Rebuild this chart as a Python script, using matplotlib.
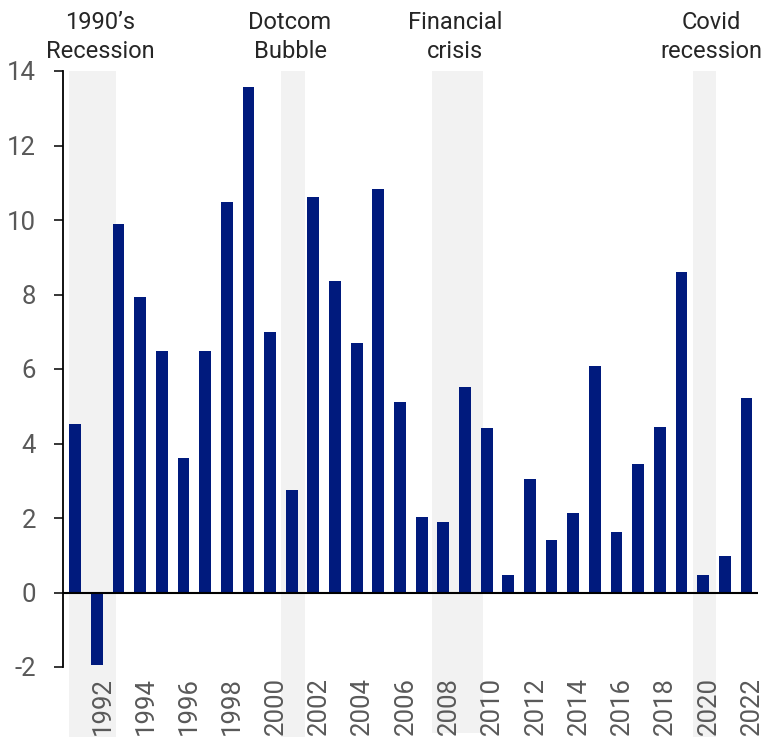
import matplotlib
matplotlib.use("Agg")
import matplotlib.pyplot as plt
from matplotlib.patches import Rectangle
from matplotlib.transforms import ScaledTranslation

plt.rcParams['font.family'] = ['Roboto', 'DejaVu Sans']

# Annual values, 1991-2022
years = list(range(1991, 2023))
values = [4.53, -1.95, 9.89, 7.92, 6.48, 3.61, 6.47, 10.47, 13.56, 6.99,
          2.75, 10.61, 8.36, 6.69, 10.82, 5.11, 2.02, 1.90, 5.52, 4.42,
          0.46, 3.06, 1.41, 2.14, 6.09, 1.63, 3.46, 4.45, 8.61, 0.48,
          0.99, 5.21]

# Recession periods: (start, end, label, label x-position)
recessions = [
    (1990.71, 1992.88, "1990\u2019s\nRecession", 1992.16),
    (2000.50, 2001.61, "Dotcom\nBubble", 2000.92),
    (2007.46, 2009.82, "Financial\ncrisis", 2008.54),
    (2019.52, 2020.58, "Covid\nrecession", 2020.38),
]

y_ticks = [-2, 0, 2, 4, 6, 8, 10, 12, 14]
x_ticks = list(range(1992, 2023, 2))

W, H = 763, 737
fig = plt.figure(figsize=(W / 100, H / 100), dpi=100)
left, right = 63.3 / W, 757.7 / W
bottom, top = (H - 667) / H, (H - 71) / H
ax = fig.add_axes([left, bottom, right - left, top - bottom])

bar_color = '#001a7d'
shade_color = '#f2f2f2'
label_color = '#595959'
note_color = '#262626'

ax.set_xlim(1990.45, 2022.52)
ax.set_ylim(-2, 14)

# Shaded recession bands, running below the plot area
for i, (x0, x1, text, tx) in enumerate(recessions):
    ybot = -3.76 if i == 2 else -3.95
    ax.add_patch(Rectangle((x0, ybot), x1 - x0, 14 - ybot, facecolor=shade_color,
                           edgecolor='none', clip_on=False, zorder=0))
    ax.text(tx, 14.36, text, ha='center', va='baseline', fontsize=17,
            color=note_color, linespacing=1.3, clip_on=False)

ax.bar(years, values, width=0.545, color=bar_color, zorder=2)
ax.axhline(0, color='black', linewidth=1.5, zorder=3)

for side in ('top', 'right', 'bottom'):
    ax.spines[side].set_visible(False)
ax.spines['left'].set_linewidth(1.3)
ax.spines['left'].set_color('black')

ax.set_yticks(y_ticks)
ax.set_yticklabels([str(t) for t in y_ticks])
ax.tick_params(axis='y', direction='out', length=6.5, width=1.1, pad=13,
               labelsize=18.5, labelcolor=label_color, color='black')

ax.set_xticks(x_ticks)
ax.set_xticklabels([str(t) for t in x_ticks], rotation=90)
ax.tick_params(axis='x', length=0, pad=7, labelsize=18.5, labelcolor=label_color)
shift = ScaledTranslation(5.5 / 100, 0, fig.dpi_scale_trans)
for lab in ax.get_xticklabels():
    lab.set_transform(lab.get_transform() + shift)

fig.savefig('out.png', dpi=100, facecolor='white')
